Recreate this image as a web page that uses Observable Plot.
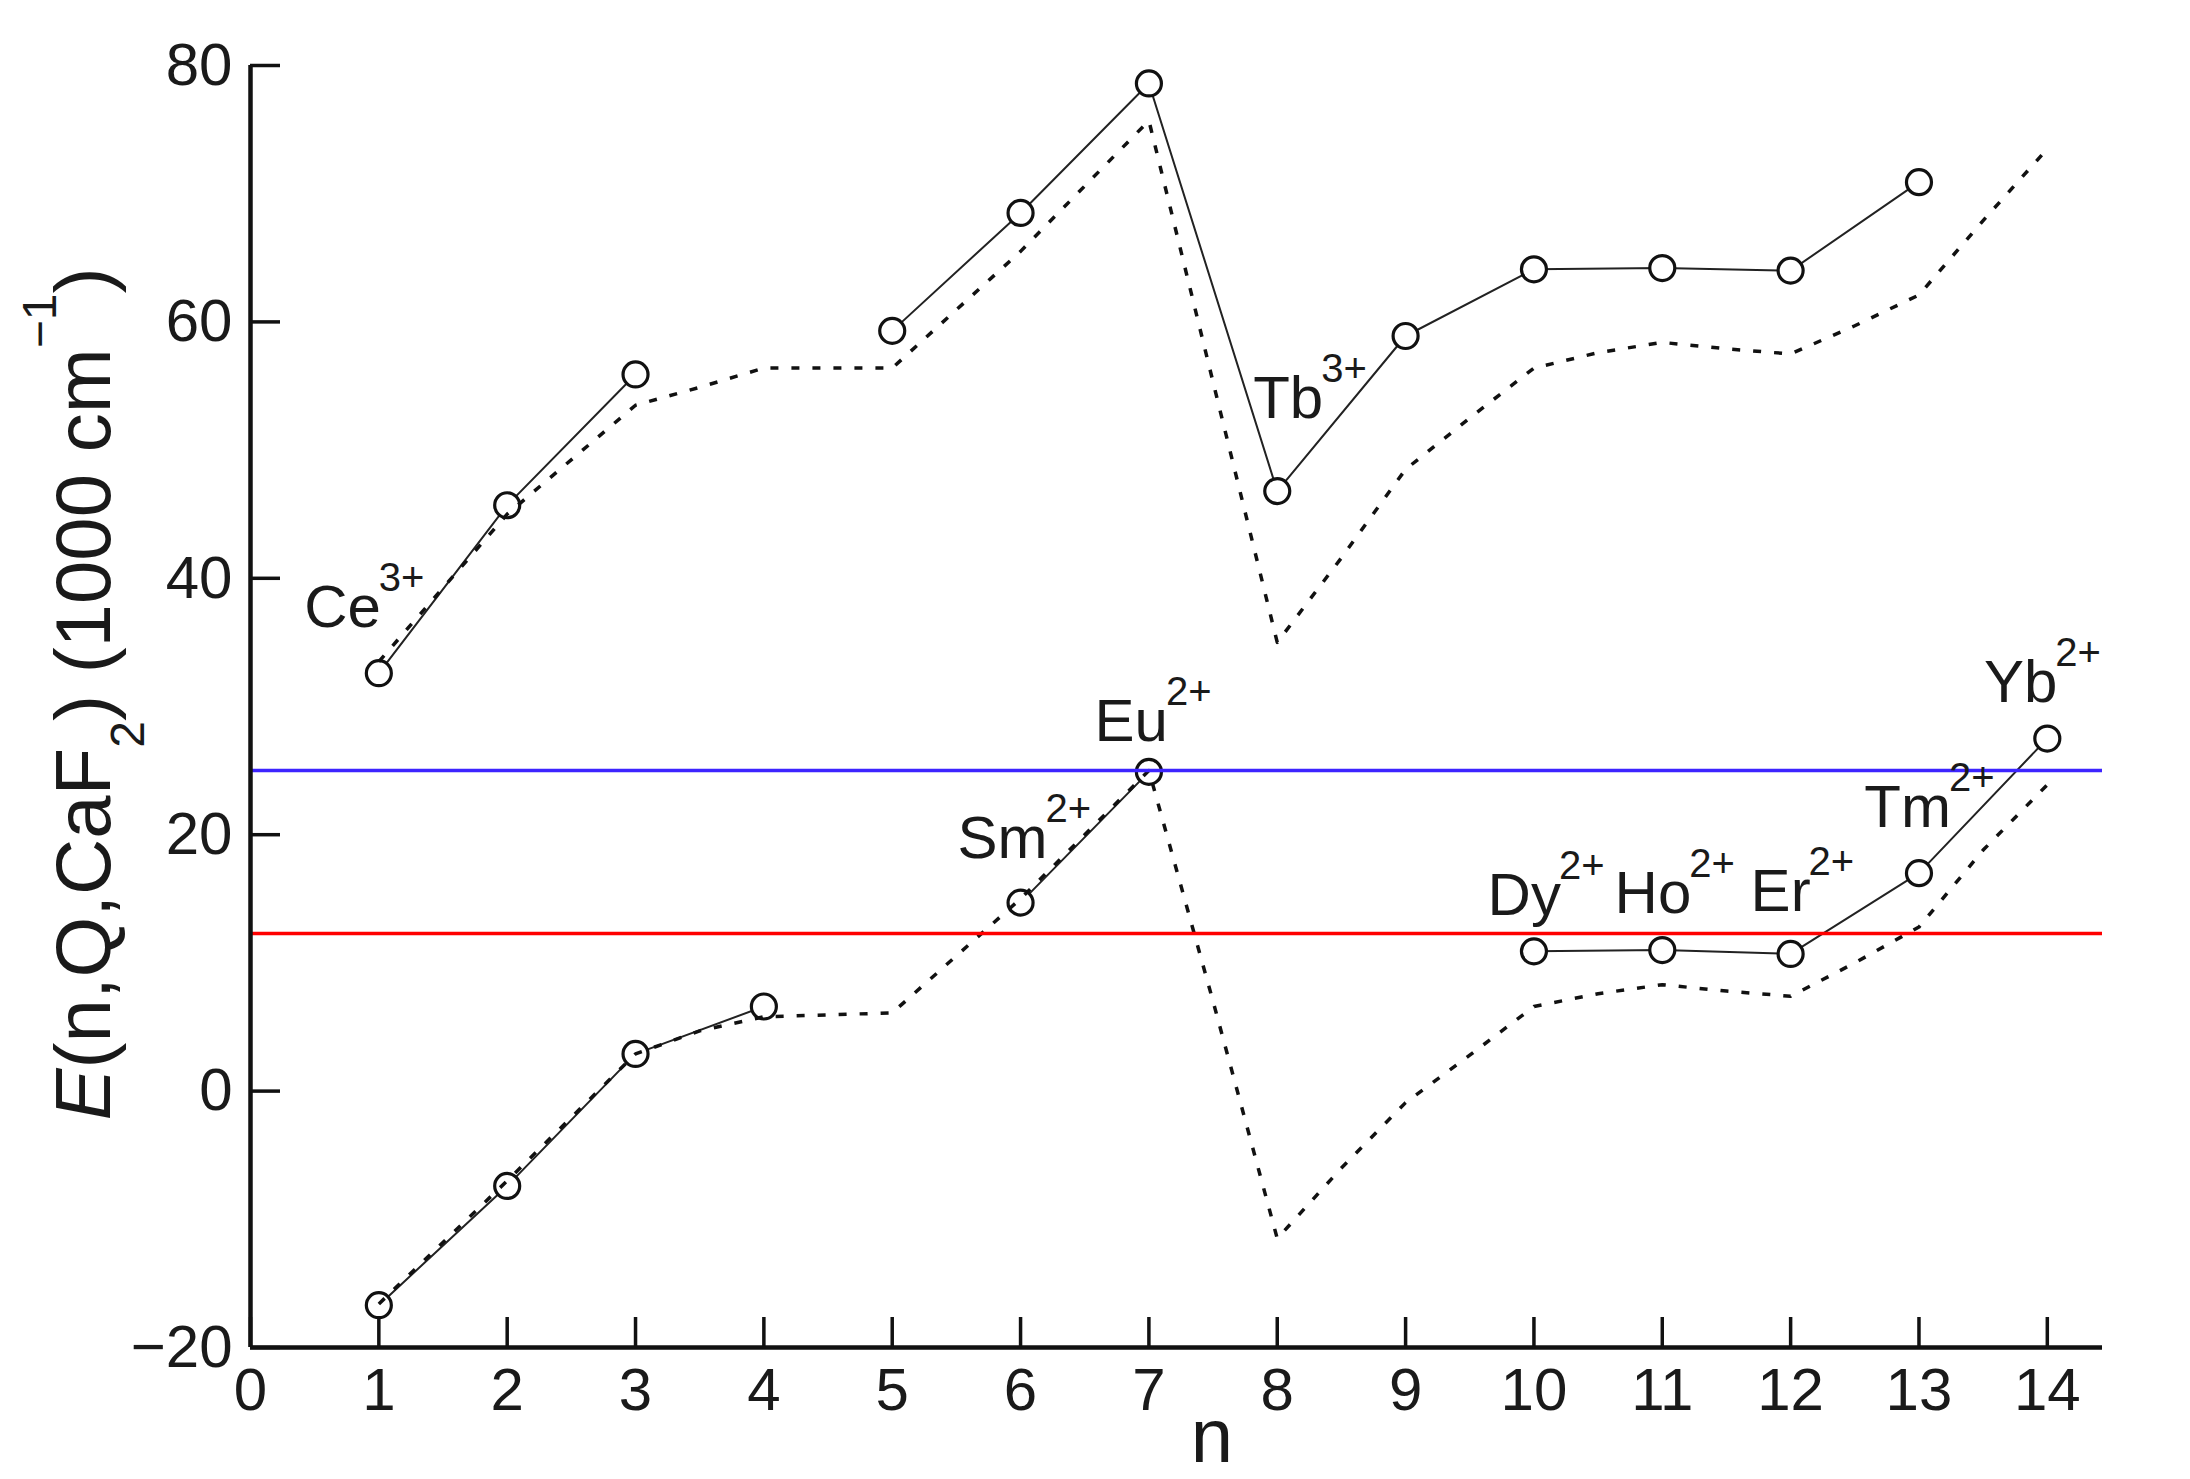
<!DOCTYPE html>
<html>
<head>
<meta charset="utf-8">
<script src="https://cdn.jsdelivr.net/npm/d3@7"></script>
<script src="https://cdn.jsdelivr.net/npm/@observablehq/plot@0.6"></script>
<style>
  html, body { margin: 0; padding: 0; background: #ffffff; }
  #chart svg { display: block; }
</style>
</head>
<body>
<div id="chart"></div>
<script>
// ---------- data ----------
const nValues = [1, 2, 3, 4, 5, 6, 7, 8, 9, 10, 11, 12, 13, 14];
// measured E (1000 cm^-1): trivalent (upper) and divalent (lower) series; null = no point
const upperE = [32.6, 45.7, 55.9, null, 59.3, 68.5, 78.6, 46.8, 58.9, 64.1, 64.2, 64.0, 70.9, null];
const lowerE = [-16.7, -7.4, 2.9, 6.6, null, 14.7, 24.9, null, null, 10.9, 11.0, 10.7, 17.0, 27.5];

// dotted model curves
const curveN = [1, 2, 3, 3.5, 4, 5, 6, 7, 7.5, 8, 8.5, 9, 9.5, 10, 10.5, 11, 11.5, 12, 12.5, 13, 13.5, 14];
const upperCurve = [33.5, 45.0, 53.5, 54.9, 56.4, 56.4, 65.5, 75.7, 55.3, 35.0, 41.6, 48.5, 52.5, 56.4, 57.6, 58.4, 57.9, 57.5, 59.7, 62.1, 67.9, 73.5];
const lowerCurve = [-16.6, -7.0, 2.9, 4.7, 5.8, 6.1, 15.0, 25.0, 7.0, -11.5, -6.0, -0.9, 2.8, 6.6, 7.6, 8.3, 7.8, 7.4, 10.0, 12.8, 18.8, 23.9];

// horizontal reference levels
const refLevels = [25.0, 12.3];
const refColors = ["#3d24ff", "#ff0000"];

// ion labels
const ionNames   = ["Ce", "Tb", "Sm", "Eu", "Dy", "Ho", "Er", "Tm", "Yb"];
const ionCharges = ["3+", "3+", "2+", "2+", "2+", "2+", "2+", "2+", "2+"];
const ionN       = [1, 8, 6, 7, 10, 11, 12, 13, 14];
const ionSeries  = ["upper", "upper", "lower", "lower", "lower", "lower", "lower", "lower", "lower"];

const xTicks = [0, 1, 2, 3, 4, 5, 6, 7, 8, 9, 10, 11, 12, 13, 14];
const yTicks = [-20, 0, 20, 40, 60, 80];

// ---------- tables ----------
const points = [];
nValues.forEach((n, i) => {
  points.push({n, E: upperE[i], series: "upper"});
  points.push({n, E: lowerE[i], series: "lower"});
});
const upperRows = nValues.map((n, i) => ({n, E: upperE[i]}));
const lowerRows = nValues.map((n, i) => ({n, E: lowerE[i]}));
const curveRows = [];
curveN.forEach((n, i) => curveRows.push({n, E: upperCurve[i], series: "upper"}));
curveN.forEach((n, i) => curveRows.push({n, E: lowerCurve[i], series: "lower"}));
const refRows = refLevels.map((E, i) => ({E, color: refColors[i]}));

const labelRows = ionNames.map((name, i) => {
  const idx = nValues.indexOf(ionN[i]);
  const E = ionSeries[i] === "upper" ? upperE[idx] : lowerE[idx];
  return {name, charge: ionCharges[i], n: ionN[i], E};
});

// label placement relative to its point (pixels)
const labelOffset = {
  Ce: [2, -46], Tb: [46, -73], Sm: [27, -45], Eu: [19, -31], Dy: [27, -36],
  Ho: [29, -37], Er: [20, -43], Tm: [32, -46], Yb: [10, -37]
};

const ink = "#1a1a1a";
const fontFamily = "'Liberation Sans', Arial, Helvetica, sans-serif";

const labelMarks = [];
labelRows.forEach(r => {
  const [dx, dy] = labelOffset[r.name];
  labelMarks.push(Plot.text([r], {x: "n", y: "E", text: "name", textAnchor: "end", lineAnchor: "bottom",
    dx, dy, fontSize: 60, fill: ink}));
  labelMarks.push(Plot.text([r], {x: "n", y: "E", text: "charge", textAnchor: "start", lineAnchor: "bottom",
    dx: dx - 2, dy: dy - 36, fontSize: 40, fill: ink}));
});

const svg = Plot.plot({
  width: 2190,
  height: 1479,
  marginLeft: 250,
  marginRight: 88,
  marginTop: 65,
  marginBottom: 132,
  style: {fontFamily, background: "#ffffff", color: ink, overflow: "visible"},
  x: {domain: [0, 14.43], label: null},
  y: {domain: [-20, 80], label: null},
  marks: [
    // solid measured lines (null values break the line)
    Plot.line(upperRows, {x: "n", y: "E", stroke: "#222", strokeWidth: 2}),
    Plot.line(lowerRows, {x: "n", y: "E", stroke: "#222", strokeWidth: 2}),
    // open circles
    Plot.dot(points.filter(d => d.E != null), {x: "n", y: "E", r: 12.5, stroke: "#111", strokeWidth: 3.2, fill: "white"}),
    // dotted model curves
    Plot.line(curveRows, {x: "n", y: "E", z: "series", stroke: "#111", strokeWidth: 3.5,
      strokeDasharray: "8 13", strokeLinecap: "butt"}),
    // reference levels
    Plot.ruleY(refRows, {y: "E", stroke: "color", strokeWidth: 3.5}),
    // axes lines
    Plot.ruleY([-20], {stroke: "#111", strokeWidth: 4.5}),
    Plot.ruleX([0], {stroke: "#111", strokeWidth: 4.5}),
    // inward ticks
    Plot.axisX({ticks: xTicks, tickSize: -30, tickFormat: () => "", strokeWidth: 3.5, stroke: "#111", label: null}),
    Plot.axisY({ticks: yTicks, tickSize: -30, tickFormat: () => "", strokeWidth: 3.5, stroke: "#111", label: null}),
    // tick labels
    Plot.axisX({ticks: xTicks, tickSize: 0, tickPadding: 20, fontSize: 60, fill: ink, label: null, tickFormat: d => String(d)}),
    Plot.axisY({ticks: yTicks, tickSize: 0, tickPadding: 18, fontSize: 60, fill: ink, label: null}),
    ...labelMarks
  ]
});

// axis titles with italic / sub / superscript parts
const s = d3.select(svg);
const yTitle = s.append("text")
  .attr("transform", "translate(110,694) rotate(-90)")
  .attr("text-anchor", "middle")
  .attr("font-size", 78)
  .attr("fill", ink)
  .attr("font-family", fontFamily);
yTitle.append("tspan").attr("font-style", "italic").text("E");
yTitle.append("tspan").text("(n,Q,CaF");
yTitle.append("tspan").attr("font-size", 48).attr("dy", 34).text("2");
yTitle.append("tspan").attr("dy", -34).text(") (1000 cm");
yTitle.append("tspan").attr("font-size", 48).attr("dy", -54).text("\u22121");
yTitle.append("tspan").attr("dy", 54).text(")");

s.append("text")
  .attr("x", 1212)
  .attr("y", 1462)
  .attr("text-anchor", "middle")
  .attr("font-size", 76)
  .attr("fill", ink)
  .attr("font-family", fontFamily)
  .text("n");

document.getElementById("chart").appendChild(svg);
</script>
</body>
</html>
